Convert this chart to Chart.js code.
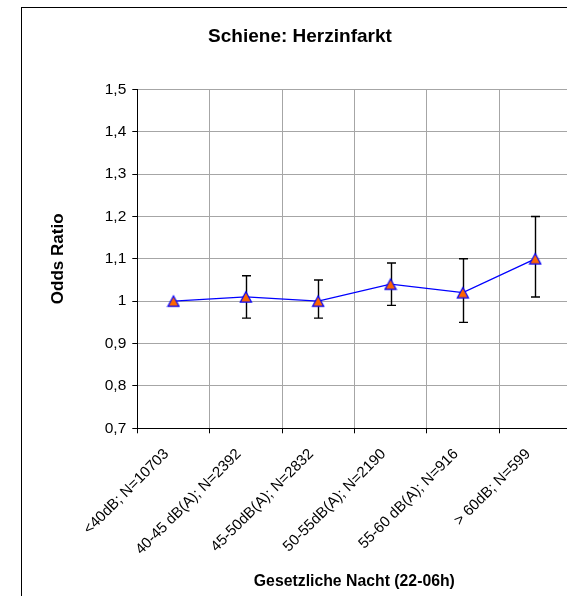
<!DOCTYPE html>
<html>
<head>
<meta charset="utf-8">
<script src="https://cdn.jsdelivr.net/npm/chart.js@4/dist/chart.umd.min.js"></script>
<style>
  html, body { margin: 0; padding: 0; background: #fff; overflow: hidden; }
  #wrap { width: 567px; height: 596px; overflow: hidden; }
  canvas { display: block; }
</style>
</head>
<body>
<div id="wrap"><canvas id="c" width="580" height="596"></canvas></div>
<script>
// Noise bands (night-time level) with sample size
const categories = [
  '<40dB; N=10703',
  '40-45 dB(A); N=2392',
  '45-50dB(A); N=2832',
  '50-55dB(A); N=2190',
  '55-60 dB(A); N=916',
  '> 60dB; N=599'
];
// Odds ratios and 95% confidence limits
const oddsRatio = [1.00, 1.01, 1.00, 1.04, 1.02, 1.10];
const ciLower   = [1.00, 0.96, 0.96, 0.99, 0.95, 1.01];
const ciUpper   = [1.00, 1.06, 1.05, 1.09, 1.10, 1.20];
// Y axis tick labels (German decimal comma)
const yTickLabels = ['0,7', '0,8', '0,9', '1', '1,1', '1,2', '1,3', '1,4', '1,5'];

const FONT = "'Liberation Sans', Arial, sans-serif";

// Orange triangle marker with blue outline, centred on its bounding box
function triangleMarker() {
  const m = document.createElement('canvas');
  m.width = 14; m.height = 14;
  const g = m.getContext('2d');
  g.beginPath();
  g.moveTo(7, 1.8);
  g.lineTo(1.4, 12.2);
  g.lineTo(12.6, 12.2);
  g.closePath();
  g.fillStyle = '#FF6600';
  g.fill();
  g.strokeStyle = '#0000FF';
  g.lineWidth = 1.2;
  g.lineJoin = 'miter';
  g.stroke();
  return m;
}

// Error bars with caps, drawn under the markers
const errorBars = {
  id: 'errorBars',
  beforeDatasetsDraw(chart) {
    const { ctx, scales: { x, y } } = chart;
    ctx.save();
    ctx.strokeStyle = '#000';
    ctx.lineWidth = 1.4;
    categories.forEach((_, i) => {
      if (ciLower[i] === ciUpper[i]) return;
      const px = Math.round(x.getPixelForValue(i)) + 0.5;
      const yl = y.getPixelForValue(ciLower[i]);
      const yu = y.getPixelForValue(ciUpper[i]);
      ctx.beginPath();
      ctx.moveTo(px, yl); ctx.lineTo(px, yu);
      ctx.moveTo(px - 4.5, yl); ctx.lineTo(px + 4.5, yl);
      ctx.moveTo(px - 4.5, yu); ctx.lineTo(px + 4.5, yu);
      ctx.stroke();
    });
    ctx.restore();
  }
};

// Outer frame around the whole chart
const frame = {
  id: 'frame',
  afterDraw(chart) {
    const ctx = chart.ctx;
    ctx.save();
    ctx.strokeStyle = '#000';
    ctx.lineWidth = 1;
    ctx.strokeRect(21.5, 7.5, 1000, 1000);
    ctx.restore();
  }
};

new Chart(document.getElementById('c'), {
  type: 'line',
  data: {
    labels: categories,
    datasets: [{
      data: oddsRatio,
      borderColor: '#0000FF',
      borderWidth: 1.3,
      pointStyle: triangleMarker(),
      pointRadius: 7,
      tension: 0,
      fill: false
    }]
  },
  options: {
    responsive: false,
    animation: false,
    layout: { padding: { left: 28.5, right: 8.6, top: 0, bottom: 0 } },
    plugins: {
      legend: { display: false },
      tooltip: { enabled: false },
      title: {
        display: true,
        text: 'Schiene: Herzinfarkt',
        color: '#000',
        font: { family: FONT, size: 19, weight: 'bold' },
        padding: { top: 25.5, bottom: 41 }
      }
    },
    scales: {
      x: {
        type: 'category',
        offset: true,
        afterFit(scale) { scale.height = 596 - 428.3; },
        grid: {
          offset: true,
          color: '#a6a6a6',
          lineWidth: 1,
          tickColor: '#000',
          tickLength: 5,
          drawTicks: true
        },
        border: { color: '#000', width: 1 },
        ticks: {
          color: '#000',
          font: { family: FONT, size: 15 },
          minRotation: 45,
          maxRotation: 45,
          autoSkip: false,
          padding: 12,
          labelOffset: -7
        },
        title: {
          display: true,
          text: 'Gesetzliche Nacht (22-06h)',
          color: '#000',
          font: { family: FONT, size: 15.8, weight: 'bold' },
          padding: { top: 0, bottom: 5 }
        }
      },
      y: {
        min: 0.7,
        max: 1.5,
        afterFit(scale) { scale.width = 137.3 - 28.5; },
        grid: {
          color: '#a6a6a6',
          lineWidth: 1,
          tickColor: '#000',
          tickLength: 5
        },
        border: { color: '#000', width: 1 },
        ticks: {
          stepSize: 0.1,
          color: '#000',
          font: { family: FONT, size: 15.5 },
          padding: 6,
          callback: (v, i) => yTickLabels[i]
        },
        title: {
          display: true,
          text: 'Odds Ratio',
          color: '#000',
          font: { family: FONT, size: 17, weight: 'bold' },
          padding: { top: 20, bottom: 0 }
        }
      }
    }
  },
  plugins: [errorBars, frame]
});
</script>
</body>
</html>
